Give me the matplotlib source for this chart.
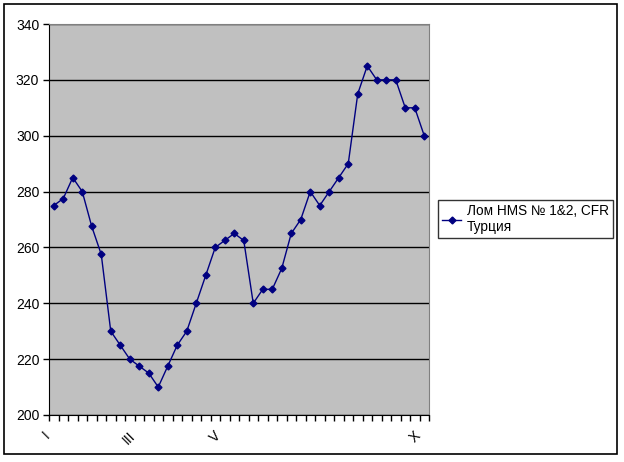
import matplotlib
matplotlib.use("Agg")
import matplotlib.pyplot as plt
from matplotlib.patches import Rectangle
import numpy as np

plt.rcParams['font.family'] = ['Liberation Sans', 'DejaVu Sans']

# Weekly prices (40 weeks)
values = [275, 277.5, 285, 280, 267.5, 257.5, 230, 225, 220, 217.5,
          215, 210, 217.5, 225, 230, 240, 250, 260, 262.5, 265,
          262.5, 240, 245, 245, 252.5, 265, 270, 280, 275, 280,
          285, 290, 315, 325, 320, 320, 320, 310, 310, 300]
month_labels = ['I', 'III', 'V', 'X']
month_label_idx = [0, 9, 18, 39]
series_name = 'Лом HMS № 1&2, CFR\nТурция'
y_ticks = [200, 220, 240, 260, 280, 300, 320, 340]

W, H = 624, 462
fig = plt.figure(figsize=(W / 100, H / 100), dpi=100)
fig.patches.append(Rectangle((4 / W, 1 - 454 / H), 613 / W, 450 / H,
                             transform=fig.transFigure, fill=False,
                             edgecolor='black', linewidth=1.2))

ax = fig.add_axes([49 / W, 1 - 415 / H, (429 - 49) / W, (415 - 24) / H])
ax.set_facecolor('#C0C0C0')
n = len(values)
x = np.arange(n)
ax.plot(x, values, color='#000080', linewidth=1.0, marker='D', markersize=3.5,
        label=series_name)

ax.set_xlim(-0.5, n - 0.5)
ax.set_ylim(200, 340)
ax.set_yticks(y_ticks)
ax.yaxis.grid(True, color='black', linewidth=1.0)
ax.set_axisbelow(True)

ax.set_xticks(np.arange(n + 1) - 0.5, minor=False)
ax.set_xticklabels([])
ax.tick_params(axis='x', direction='out', length=4, width=1, colors='black')
ax.tick_params(axis='y', direction='out', length=4, width=1, labelsize=10, pad=3)

for idx, lab in zip(month_label_idx, month_labels):
    ax.annotate(lab, xy=(idx, 200), xycoords='data', xytext=(-1, -10),
                textcoords='offset points', rotation=45, ha='right', va='top',
                fontsize=10)

for s in ['top', 'right']:
    ax.spines[s].set_color('#808080')
for s in ['left', 'bottom']:
    ax.spines[s].set_color('black')

leg = fig.legend(loc='upper left', bbox_to_anchor=(438 / W, 1 - 200 / H),
                 frameon=True, fancybox=False, shadow=False, fontsize=9.8,
                 borderaxespad=0, handlelength=1.4, handletextpad=0.4,
                 borderpad=0.3, labelspacing=0.2)
leg.get_frame().set_edgecolor('black')
leg.get_frame().set_linewidth(1.0)

fig.savefig('out.png', dpi=100)
